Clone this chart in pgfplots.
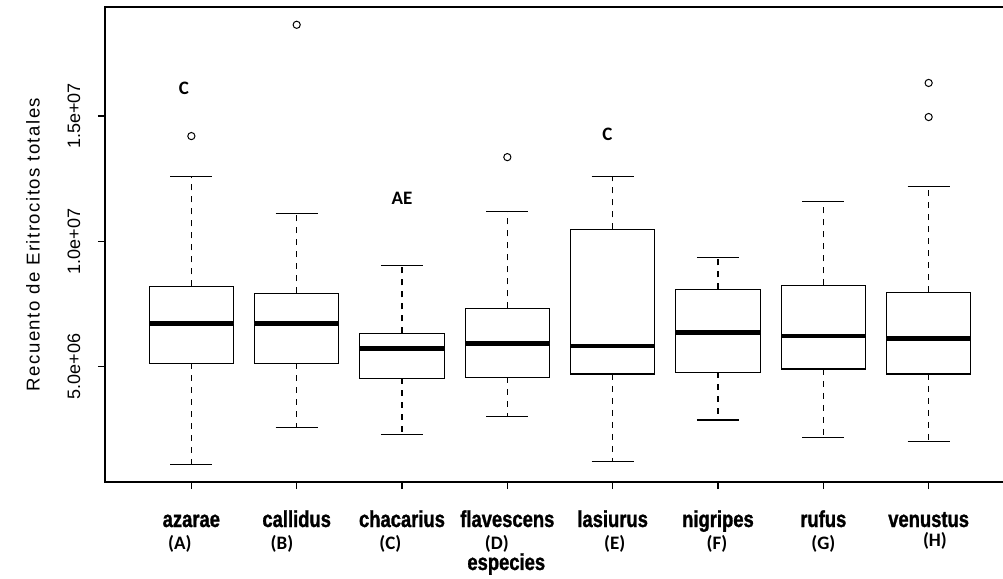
\documentclass[border=0pt]{standalone}
\usepackage{fontspec}
\setmainfont{Liberation Sans}
\newfontfamily\narrowbold[FakeStretch=0.8,FakeBold=1.2,UprightFont={* Bold}]{Liberation Sans}
\newfontfamily\carlito{Carlito}
\newfontfamily\spaced[LetterSpace=8]{Liberation Sans}
\usepackage{pgfplots}
\pgfplotsset{compat=1.18}
\usepgfplotslibrary{statistics}
\usetikzlibrary{calc}
\pgfplotsset{
  rbox/.style={
    black, line width=0.6pt, fill=white, solid,
    mark=o, mark size=1.8pt, mark options={solid, line width=0.5pt, fill=none},
  },
}
\tikzset{grp/.style={font=\carlito\bfseries\fontsize{9.5}{11}\selectfont}}
\begin{document}
\begin{tikzpicture}
\begin{axis}[
  scale only axis,
  width=455pt, height=237.5pt,
  xmin=0.18, xmax=8.82,
  ymin=0.4, ymax=19.35,
  axis line style={line width=0.6pt},
  tick style={black, line width=0.6pt},
  tick align=outside,
  major tick length=3.5pt,
  xtick={1,2,3,4,5,6,7,8},
  xticklabels={azarae,callidus,chacarius,flavescens,lasiurus,nigripes,rufus,venustus},
  xtick pos=bottom,
  ytick pos=left,
  xticklabel style={font=\narrowbold\fontsize{11.5}{13}\selectfont, anchor=base, yshift=-19pt},
  ytick={5,10,15},
  yticklabels={5.0e+06,1.0e+07,1.5e+07},
  yticklabel style={font=\fontsize{9}{11}\selectfont, anchor=center, xshift=-12pt, rotate=90},
  ylabel={Recuento de Eritrocitos totales},
  every axis y label/.style={at={(rel axis cs:0,0.5)}, xshift=-36pt, rotate=90, anchor=center, font=\spaced\fontsize{9.3}{11}\selectfont},
  clip=false,
  boxplot/draw direction=y,
  boxplot/box extend=0.8,
  boxplot/whisker extend=0.4,
  boxplot/every median/.style={line width=2.2pt},
  boxplot/draw/lower whisker/.code={%
    \draw[dashed] (boxplot cs:\pgfplotsboxplotvalue{lower quartile}) -- (boxplot cs:\pgfplotsboxplotvalue{lower whisker});
    \draw (boxplot whisker cs:\pgfplotsboxplotvalue{lower whisker},0) -- (boxplot whisker cs:\pgfplotsboxplotvalue{lower whisker},1);
  },
  boxplot/draw/upper whisker/.code={%
    \draw[dashed] (boxplot cs:\pgfplotsboxplotvalue{upper quartile}) -- (boxplot cs:\pgfplotsboxplotvalue{upper whisker});
    \draw (boxplot whisker cs:\pgfplotsboxplotvalue{upper whisker},0) -- (boxplot whisker cs:\pgfplotsboxplotvalue{upper whisker},1);
  },
]
% azarae
\addplot[rbox, boxplot prepared={draw position=1, lower whisker=1.11, lower quartile=5.13, median=6.73, upper quartile=8.20, upper whisker=12.60}]
  table[row sep=\\, y index=0] {14.20\\};
% callidus
\addplot[rbox, boxplot prepared={draw position=2, lower whisker=2.57, lower quartile=5.13, median=6.73, upper quartile=7.93, upper whisker=11.12}]
  table[row sep=\\, y index=0] {18.64\\};
% chacarius
\addplot[rbox, boxplot prepared={draw position=3, lower whisker=2.31, lower quartile=4.53, median=5.72, upper quartile=6.33, upper whisker=9.04}]
  coordinates {};
% flavescens
\addplot[rbox, boxplot prepared={draw position=4, lower whisker=3.01, lower quartile=4.57, median=5.93, upper quartile=7.33, upper whisker=11.20}]
  table[row sep=\\, y index=0] {13.36\\};
% lasiurus
\addplot[rbox, boxplot prepared={draw position=5, lower whisker=1.21, lower quartile=4.71, median=5.83, upper quartile=10.48, upper whisker=12.60}]
  coordinates {};
% nigripes
\addplot[rbox, boxplot prepared={draw position=6, lower whisker=2.87, lower quartile=4.77, median=6.37, upper quartile=8.08, upper whisker=9.36}]
  coordinates {};
% rufus
\addplot[rbox, boxplot prepared={draw position=7, lower whisker=2.17, lower quartile=4.91, median=6.23, upper quartile=8.24, upper whisker=11.60}]
  coordinates {};
% venustus
\addplot[rbox, boxplot prepared={draw position=8, lower whisker=2.01, lower quartile=4.71, median=6.12, upper quartile=7.97, upper whisker=12.20}]
  table[row sep=\\, y index=0] {16.32\\ 14.96\\};

% group letters
\node[grp] at (axis cs:0.93,16.12) {C};
\node[grp] at (axis cs:3.0,11.72) {AE};
\node[grp] at (axis cs:4.95,14.28) {C};

% species codes
\node[grp, anchor=base] at ([yshift=-34pt]axis cs:0.89,0.4) {(A)};
\node[grp, anchor=base] at ([yshift=-34pt]axis cs:1.86,0.4) {(B)};
\node[grp, anchor=base] at ([yshift=-34pt]axis cs:2.89,0.4) {(C)};
\node[grp, anchor=base] at ([yshift=-34pt]axis cs:3.90,0.4) {(D)};
\node[grp, anchor=base] at ([yshift=-34pt]axis cs:5.02,0.4) {(E)};
\node[grp, anchor=base] at ([yshift=-34pt]axis cs:5.99,0.4) {(F)};
\node[grp, anchor=base] at ([yshift=-34pt]axis cs:7.00,0.4) {(G)};
\node[grp, anchor=base] at ([yshift=-32.5pt]axis cs:8.06,0.4) {(H)};
\node[font=\narrowbold\fontsize{11.5}{13}\selectfont, anchor=base] at ([yshift=-44pt]axis cs:3.99,0.4) {especies};
\end{axis}
\pgfresetboundingbox
\path[use as bounding box] ($(current axis.south west)+(-52.5pt,-48.5pt)$) rectangle ($(current axis.north east)+(-6pt,3.5pt)$);
\end{tikzpicture}
\end{document}
